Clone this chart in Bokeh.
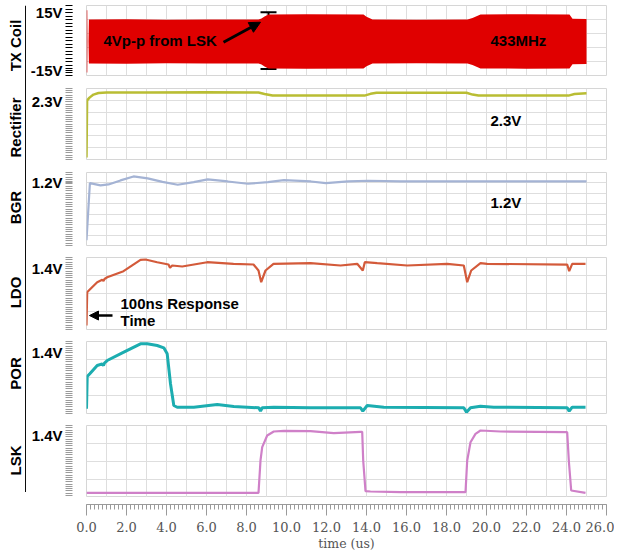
import numpy as np
from bokeh.plotting import figure
from bokeh.layouts import row, column
from bokeh.models import (Range1d, FixedTicker, SingleIntervalTicker, PrintfTickFormatter,
                          CustomJSTickFormatter, Label, Span, Arrow, NormalHead, TeeHead,
                          Whisker, ColumnDataSource, AllLabels)
from bokeh.embed import file_html
from bokeh.resources import INLINE

# ---------------- data ----------------
titles = ["TX Coil", "Rectifier", "BGR", "LDO", "POR", "LSK"]

# TX coil envelope (433 MHz carrier amplitude, V)
tx_t = [0.0, 0.04, 0.05, 0.10, 0.12, 2.0, 4.0, 6.0, 8.6, 8.75, 8.9, 9.1, 11.0, 13.85, 14.0,
        14.3, 16.5, 19.05, 19.3, 19.7, 22.0, 24.15, 24.3, 25.0]
tx_amp = [16.0, 16.0, 0.0, 0.0, 11.3, 11.4, 11.2, 11.3, 11.3, 11.8, 12.9, 13.9, 14.0, 13.9, 12.7,
          11.3, 11.2, 11.3, 12.1, 13.9, 14.0, 13.9, 11.7, 11.6]

rect_t = [0.0, 0.03, 0.15, 0.35, 0.6, 1.0, 3.0, 6.0, 8.6, 8.9, 9.3, 11.5, 13.9, 14.2, 14.5,
          17.0, 19.0, 19.3, 19.6, 22.0, 24.1, 24.4, 25.0]
rect_v = [0.08, 2.33, 2.44, 2.56, 2.62, 2.64, 2.64, 2.65, 2.64, 2.58, 2.52, 2.52, 2.52, 2.59, 2.63,
          2.63, 2.63, 2.56, 2.52, 2.52, 2.52, 2.58, 2.61]

bgr_t = [0.0, 0.17, 0.7, 1.1, 1.7, 2.35, 3.06, 3.8, 4.56, 5.36, 6.06, 7.06, 8.07, 9.07, 9.87,
         11.22, 11.97, 13.08, 14.08, 15.73, 20.0, 25.0]
bgr_v = [0.10, 1.196, 1.152, 1.171, 1.248, 1.324, 1.286, 1.219, 1.165, 1.215, 1.267, 1.228, 1.184,
         1.215, 1.253, 1.228, 1.196, 1.228, 1.242, 1.228, 1.228, 1.228]

ldo_t = [0.0, 0.035, 0.115, 0.535, 0.785, 0.85, 0.9, 1.035, 1.85, 2.7, 2.95, 3.535, 4.1, 4.175,
         4.285, 4.785, 6.035, 7.35, 8.35, 8.6, 8.735, 8.95, 9.35, 11.2, 12.7, 13.535, 13.815,
         13.915, 14.535, 16.035, 18.035, 18.865, 19.035, 19.235, 19.7, 20.035, 24.035, 24.135,
         24.285, 24.95]
ldo_v = [0.09, 0.855, 0.894, 1.084, 1.139, 1.11, 1.157, 1.198, 1.336, 1.597, 1.604, 1.542, 1.489,
         1.414, 1.467, 1.444, 1.542, 1.505, 1.489, 1.352, 1.084, 1.352, 1.505, 1.519, 1.467, 1.505,
         1.352, 1.542, 1.519, 1.467, 1.505, 1.467, 1.084, 1.352, 1.519, 1.505, 1.489, 1.336,
         1.505, 1.505]

por_t = [0.0, 0.035, 0.165, 0.535, 0.785, 0.85, 0.9, 1.035, 1.865, 2.7, 3.035, 3.535, 3.865,
         4.035, 4.2, 4.365, 4.535, 5.365, 6.535, 7.365, 8.615, 8.7, 8.785, 9.365, 11.2, 13.7,
         13.815, 14.035, 14.865, 18.865, 19.0, 19.2, 19.7, 20.365, 24.035, 24.135, 24.285, 24.95]
por_v = [0.108, 0.848, 0.91, 1.10, 1.139, 1.10, 1.157, 1.214, 1.405, 1.597, 1.597, 1.558, 1.505,
         1.368, 0.681, 0.183, 0.144, 0.144, 0.206, 0.160, 0.131, 0.053, 0.131, 0.144, 0.131, 0.131,
         0.053, 0.183, 0.144, 0.131, 0.03, 0.131, 0.167, 0.144, 0.131, 0.053, 0.144, 0.144]

lsk_t = [0.0, 8.6, 8.7, 8.785, 9.035, 9.365, 9.865, 11.2, 12.365, 13.7, 13.785, 13.835, 13.95,
         14.2, 15.7, 18.95, 19.035, 19.2, 19.45, 19.7, 20.7, 24.035, 24.115, 24.235, 24.95]
lsk_v = [0.101, 0.101, 0.797, 1.083, 1.335, 1.421, 1.436, 1.427, 1.384, 1.414, 1.414, 0.797, 0.136,
         0.129, 0.114, 0.114, 0.797, 1.19, 1.371, 1.442, 1.421, 1.406, 0.797, 0.151, 0.101]

# ---------------- styling ----------------
FONT = "Liberation Sans"
GRID = "#dedede"
XR = Range1d(0, 26)
FRAME_W = 520
LEFT = 60
RIGHT = 12


def panel(yr, frame_h, top, gap, ticks, n_rows, comb_color, n_minor):
    p = figure(x_range=XR, y_range=Range1d(*yr), frame_width=FRAME_W, frame_height=frame_h,
               min_border_left=LEFT, min_border_right=RIGHT, min_border_top=top,
               min_border_bottom=gap, x_axis_location=None, toolbar_location=None,
               output_backend="svg", title=None)
    p.outline_line_color = "#d6d6d6"
    p.xgrid.ticker = FixedTicker(ticks=list(range(27)))
    p.ygrid.ticker = FixedTicker(ticks=list(np.linspace(yr[0], yr[1], n_rows + 1)))
    for g in (p.xgrid, p.ygrid):
        g.grid_line_color = GRID
        g.grid_line_width = 1
    ax = p.yaxis[0]
    ax.ticker = FixedTicker(ticks=ticks, minor_ticks=list(np.linspace(yr[0], yr[1], n_minor)))
    ax.formatter = CustomJSTickFormatter(code="return tick + 'V'")
    ax.axis_line_color = None
    ax.major_tick_in = -14
    ax.major_tick_out = 21
    ax.minor_tick_in = -14
    ax.minor_tick_out = 21
    ax.major_tick_line_color = comb_color
    ax.minor_tick_line_color = comb_color
    ax.major_label_standoff = 3
    ax.major_label_text_font = FONT
    ax.major_label_text_font_style = "bold"
    ax.major_label_text_font_size = "15px"
    ax.major_label_text_color = "black"
    return p


def note(p, x, y, text, align="left"):
    p.add_layout(Label(x=x, y=y, text=text, text_font=FONT, text_font_style="bold",
                       text_font_size="15px", text_color="black", text_align=align,
                       text_baseline="middle"))


# TX Coil
tx = panel((-17.5, 18.5), 70, 5, 13, [15, -15], 5, "black", 21)
tx.varea(x=tx_t, y1=[-a for a in tx_amp], y2=tx_amp, fill_color="#e00000")
note(tx, 0.85, 0.3, "4Vp-p from LSK")
note(tx, 20.2, 0.3, "433MHz")
tx.add_layout(Arrow(end=NormalHead(size=11, fill_color="black", line_color="black"),
                    x_start=6.85, y_start=-0.4, x_end=8.7, y_end=9.9,
                    line_width=3, line_color="black"))
wsrc = ColumnDataSource(dict(base=[9.1], lower=[-14.1], upper=[15.0]))
tx.add_layout(Whisker(source=wsrc, base="base", lower="lower", upper="upper",
                      dimension="height", line_color="black", line_width=2, line_dash="6 3",
                      upper_head=TeeHead(size=16, line_width=2, line_color="black"),
                      lower_head=TeeHead(size=16, line_width=2, line_color="black")))

# Rectifier
rect = panel((0, 2.8), 71, 0, 13, [2.3], 6, "#9a9a9a", 33)
rect.line(rect_t, rect_v, line_color="#b9bd33", line_width=2.5)
note(rect, 20.2, 1.54, "2.3V")

# BGR
bgr = panel((0, 1.4), 73, 0, 12, [1.2], 7, "#9a9a9a", 33)
bgr.line(bgr_t, bgr_v, line_color="#a4b3d4", line_width=2.2)
note(bgr, 20.2, 0.83, "1.2V")

# LDO
ldo = panel((0, 1.65), 72, 0, 12, [1.4], 4, "#9a9a9a", 33)
ldo.line(ldo_t, ldo_v, line_color="#d35a3a", line_width=2.2)
note(ldo, 1.7, 0.59, "100ns Response")
note(ldo, 1.7, 0.21, "Time")
ldo.add_layout(Arrow(end=NormalHead(size=9, fill_color="black", line_color="black"),
                     x_start=1.3, y_start=0.32, x_end=0.15, y_end=0.32,
                     line_width=2.5, line_color="black"))

# POR
por = panel((0, 1.65), 72, 0, 12, [1.4], 4, "#9a9a9a", 33)
por.line(por_t, por_v, line_color="#1cadb0", line_width=3)

# LSK
lsk = panel((0, 1.55), 72, 0, 0, [1.4], 4, "#9a9a9a", 33)
lsk.line(lsk_t, lsk_v, line_color="#cf80c8", line_width=2.2)

# bottom time axis
axf = figure(x_range=XR, y_range=Range1d(0, 1), frame_width=FRAME_W, frame_height=7,
             min_border_left=LEFT, min_border_right=8, min_border_top=0, min_border_bottom=0,
             y_axis_location=None, toolbar_location=None, output_backend="svg", title=None)
axf.outline_line_color = None
axf.grid.visible = False
xa = axf.xaxis[0]
xa.ticker = SingleIntervalTicker(interval=2, num_minor_ticks=10)
xa.formatter = PrintfTickFormatter(format="%.1f")
xa.major_label_policy = AllLabels()
xa.axis_line_color = "#9a9a9a"
xa.major_tick_line_color = "#9a9a9a"
xa.minor_tick_line_color = "#9a9a9a"
xa.major_tick_in = 0
xa.major_tick_out = 11
xa.minor_tick_in = 0
xa.minor_tick_out = 5
xa.major_label_standoff = 6
xa.major_label_text_font = "DejaVu Serif"
xa.major_label_text_font_size = "13px"
xa.major_label_text_color = "#555555"
xa.axis_label = "time (us)"
xa.axis_label_standoff = 1
xa.axis_label_text_font = "DejaVu Serif"
xa.axis_label_text_font_size = "12.5px"
xa.axis_label_text_font_style = "normal"
xa.axis_label_text_color = "#555555"

# left strip with panel titles and the vertical rule
left = figure(x_range=Range1d(0, 26), y_range=Range1d(492, 5), width=26, height=492,
              min_border_left=0, min_border_right=0, min_border_top=5, min_border_bottom=0,
              x_axis_location=None, y_axis_location=None, toolbar_location=None,
              output_backend="svg", title=None)
left.outline_line_color = None
left.grid.visible = False
left.add_layout(Span(location=25.3, dimension="height", line_color="black", line_width=1.5))
title_y = [45, 127, 207, 292, 373, 460]
for t, yc in zip(titles, title_y):
    left.add_layout(Label(x=15, y=yc, text=t, angle=np.pi / 2, text_align="center",
                          text_baseline="middle", text_font=FONT, text_font_style="bold",
                          text_font_size="15px", text_color="black"))

layout = row(left, column(tx, rect, bgr, ldo, por, lsk, axf))

with open("out.html", "w") as f:
    f.write(file_html(layout, INLINE))
